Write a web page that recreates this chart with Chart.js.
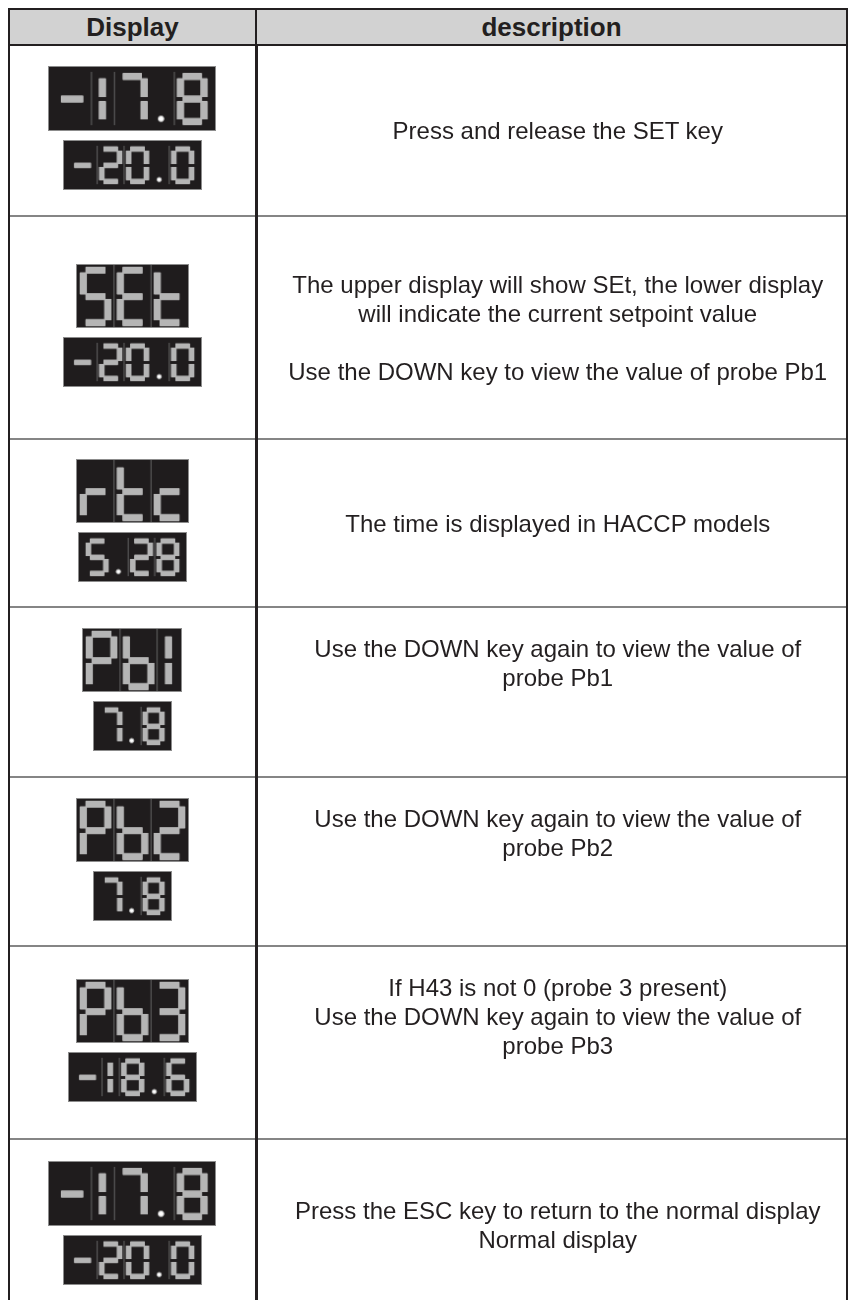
<!DOCTYPE html>
<html lang="en">
<head>
<meta charset="UTF-8">
<title>Display sequence</title>
<script src="https://cdn.jsdelivr.net/npm/chart.js"></script>
<style>
  body { margin: 0; background: #fff; }
  #tbl {
    position: absolute; left: 8px; top: 8px; width: 840px;
    border-collapse: collapse; table-layout: fixed;
    font-family: "Liberation Sans", Arial, Helvetica, sans-serif; color: #231f20;
  }
  #tbl th {
    height: 34px; padding: 0; background: #d2d2d2;
    border: 2px solid #231f20; font-size: 26px; font-weight: bold; line-height: 30px;
  }
  #tbl td {
    padding: 0; border-top: 2px solid #858585;
    border-left: 2px solid #231f20; border-right: 2px solid #231f20;
  }
  #tbl td.disp { border-right: 3px solid #231f20; }
  #tbl td.desc { text-align: center; font-size: 24px; line-height: 29px; padding-left: 12px; vertical-align: middle; }
  #tbl td.top { vertical-align: top; padding-top: 26px; }
  .stack { display: flex; flex-direction: column; align-items: center; gap: 9px; padding-bottom: 5px; }
  .stack canvas { display: block; background: #1f1c1d; border: 1px solid #8c8c8c; }
</style>
</head>
<body>
<table id="tbl">
  <colgroup><col style="width:247px"><col></colgroup>
  <thead><tr id="head"></tr></thead>
  <tbody id="rows"></tbody>
</table>

<script>
  // data
  var headerLabels = ['Display', 'description'];
  var upperReadings = ['-17.8', 'SEt', 'rtc', 'Pb1', 'Pb2', 'Pb3', '-17.8'];
  var lowerReadings = ['-20.0', '-20.0', '5.28', '7.8', '7.8', '-18.6', '-20.0'];
  var descriptions = [
    ['Press and release the SET key'],
    ['The upper display will show SEt, the lower display', 'will indicate the current setpoint value', '', 'Use the DOWN key to view the value of probe Pb1'],
    ['The time is displayed in HACCP models'],
    ['Use the DOWN key again to view the value of', 'probe Pb1'],
    ['Use the DOWN key again to view the value of', 'probe Pb2'],
    ['If H43 is not 0 (probe 3 present)', 'Use the DOWN key again to view the value of', 'probe Pb3'],
    ['Press the ESC key to return to the normal display', 'Normal display']
  ];

  // layout
  var rowHeights = [171, 223, 168, 170, 169, 193, 171];
  var textTop = [false, false, false, true, true, true, false];
  var upperSize = [65, 64, 64, 64, 64, 64, 65];
  var lowerSize = 50;

  // seven segment glyphs
  var SEGS = {
    '0': 'abcdef', '1': 'bc', '2': 'abdeg', '3': 'abcdg', '4': 'bcfg', '5': 'acdfg',
    '6': 'acdefg', '7': 'abc', '8': 'abcdefg', '9': 'abcdfg', '-': 'g',
    'S': 'acdfg', 'E': 'adefg', 't': 'defg', 'r': 'eg', 'c': 'deg', 'P': 'abefg', 'b': 'cdefg'
  };

  function charWidth(ch) {
    if (ch === '1') return 0.38;
    if (ch === '-') return 0.62;
    if (ch === '.') return 0.4;
    return 0.59;
  }

  function buildGlyphs(text) {
    var x = 0, segs = [], dots = [], divs = [];
    var yt = 0.915, ym = 0.49, yb = 0.07, g = 0.038;
    for (var i = 0; i < text.length; i++) {
      var ch = text[i];
      if (x > 0 && ch !== '.') {
        divs.push({ x: x, y: 0 }, { x: x, y: 1 }, { x: x, y: null });
      }
      if (ch === '.') {
        dots.push({ x: x + 0.18, y: 0.12 });
      } else {
        var L = x + 0.1, R = x + 0.49;
        if (ch === '1') { L = R = x + 0.18; }
        if (ch === '-') { L = x + 0.08; R = x + 0.52; }
        var lines = {
          a: [L + g, yt, R - g, yt], b: [R, yt - g, R, ym + g], c: [R, ym - g, R, yb + g],
          d: [L + g, yb, R - g, yb], e: [L, ym - g, L, yb + g], f: [L, yt - g, L, ym + g],
          g: [L + g, ym, R - g, ym]
        };
        (SEGS[ch] || '').split('').forEach(function (s) {
          var p = lines[s];
          segs.push({ x: p[0], y: p[1] }, { x: p[2], y: p[3] }, { x: p[2], y: null });
        });
      }
      x += charWidth(ch);
    }
    return { total: x, segs: segs, dots: dots, divs: divs };
  }

  function drawDisplay(canvas, text, h) {
    var gl = buildGlyphs(text);
    canvas.width = Math.round(gl.total * h);
    canvas.height = h;
    var t = h * 0.115;
    new Chart(canvas, {
      type: 'scatter',
      data: {
        datasets: [
          { data: gl.divs, showLine: true, borderColor: '#666666', borderWidth: 1, pointRadius: 0, spanGaps: false },
          { data: gl.segs, showLine: true, borderColor: '#b5b5b5', borderWidth: t, pointRadius: 0, spanGaps: false },
          { data: gl.segs, showLine: true, borderColor: '#ffffff', borderWidth: t - 1.2, pointRadius: 0, spanGaps: false },
          { data: gl.dots, pointRadius: h * 0.045, backgroundColor: '#ffffff', borderColor: '#b5b5b5', borderWidth: 1 }
        ]
      },
      options: {
        responsive: false,
        animation: false,
        events: [],
        layout: { padding: 0 },
        plugins: { legend: { display: false }, tooltip: { enabled: false } },
        scales: {
          x: { type: 'linear', min: 0, max: gl.total, display: false },
          y: { type: 'linear', min: 0, max: 1, display: false }
        }
      }
    });
  }

  var head = document.getElementById('head');
  headerLabels.forEach(function (lbl) {
    var th = document.createElement('th');
    th.textContent = lbl;
    head.appendChild(th);
  });

  var body = document.getElementById('rows');
  for (var i = 0; i < descriptions.length; i++) {
    var tr = document.createElement('tr');
    tr.style.height = rowHeights[i] + 'px';
    if (i === 4) tr.style.borderTop = '2px solid #231f20';

    var td1 = document.createElement('td');
    td1.className = 'disp';
    var stack = document.createElement('div');
    stack.className = 'stack';
    var c1 = document.createElement('canvas');
    var c2 = document.createElement('canvas');
    stack.appendChild(c1);
    stack.appendChild(c2);
    td1.appendChild(stack);

    var td2 = document.createElement('td');
    td2.className = 'desc' + (textTop[i] ? ' top' : '');
    td2.innerHTML = descriptions[i].map(function (s) { return s === '' ? '&nbsp;' : s; }).join('<br>');

    tr.appendChild(td1);
    tr.appendChild(td2);
    body.appendChild(tr);

    drawDisplay(c1, upperReadings[i], upperSize[i]);
    drawDisplay(c2, lowerReadings[i], lowerSize);
  }
</script>
</body>
</html>
